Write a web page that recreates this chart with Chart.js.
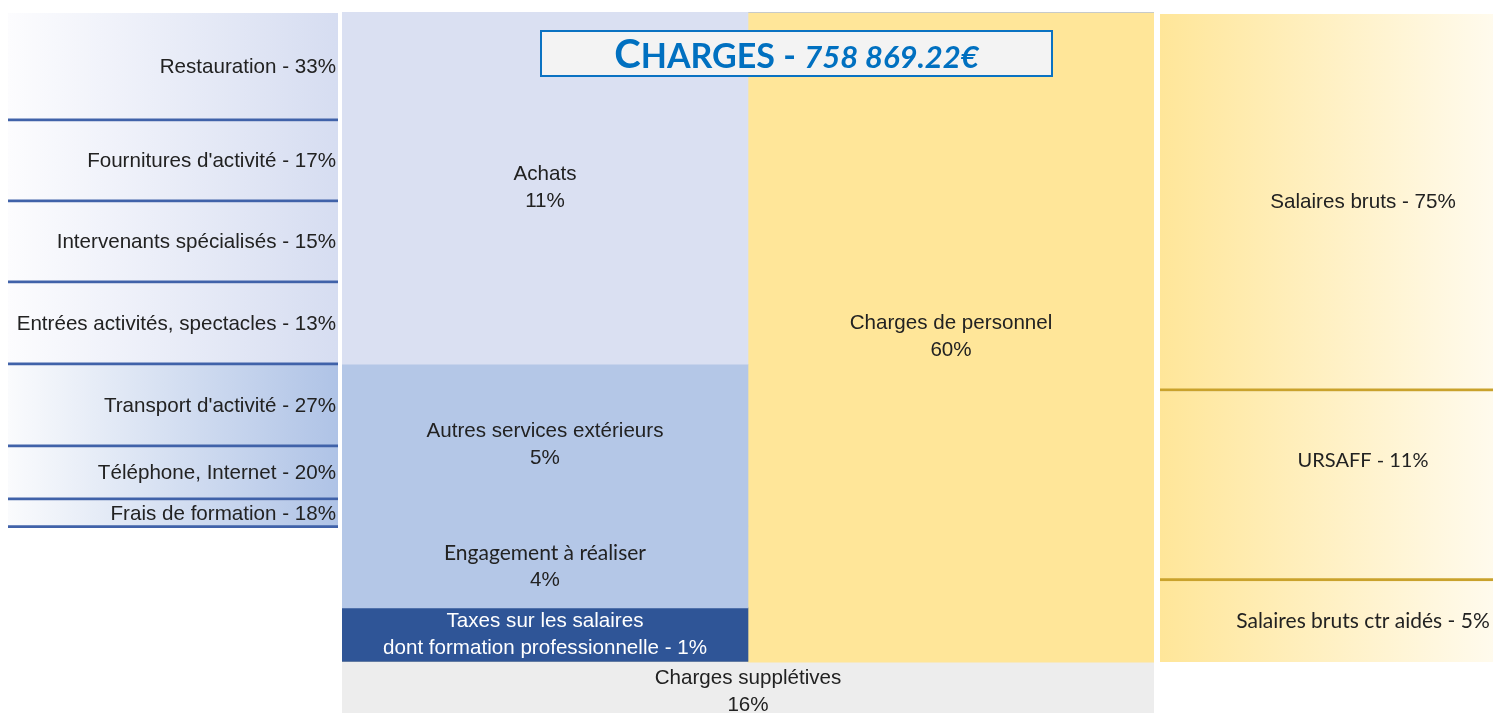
<!DOCTYPE html>
<html lang="fr">
<head>
<meta charset="utf-8">
<title>Charges - 758 869.22€</title>
<script src="https://cdn.jsdelivr.net/npm/chart.js@4.4.1/dist/chart.umd.min.js"></script>
<style>
  html, body { margin: 0; padding: 0; background: #fff; overflow: hidden; width: 1493px; height: 713px; }
  canvas { position: absolute; }
  #detailChart { left: 8px; top: 13px; }
  #mainChart { left: 342px; top: 12px; }
  #personnelChart { left: 1160px; top: 14px; }
  #title {
    position: absolute; left: 540px; top: 30px; width: 513px; height: 47px;
    box-sizing: border-box; border: 2px solid #0a72c2; background: #f3f3f3;
    color: #0070c0; font-family: Lato, sans-serif; font-weight: 700;
    font-size: 34px; line-height: 32px; padding-top: 5px; text-align: center; white-space: nowrap;
  }
  #title .cap { font-size: 40px; }
  #title .amount { font-size: 31px; font-style: italic; }
</style>
</head>
<body>
<canvas id="detailChart" width="330" height="515"></canvas>
<canvas id="mainChart" width="812" height="706"></canvas>
<canvas id="personnelChart" width="406" height="648"></canvas>
<div id="title"><span class="cap">C</span>HARGES - <span class="amount">758 869.22€</span></div>

<script>
// panneau gauche : détail achats / services extérieurs
const detailLabels = ['Restauration', "Fournitures d'activité", 'Intervenants spécialisés', 'Entrées activités, spectacles',
    "Transport d'activité", 'Téléphone, Internet', 'Frais de formation'];
const detailPcts = [33, 17, 15, 13, 27, 20, 18];
const detailShares = [21.0, 15.7, 15.7, 15.9, 15.9, 10.3, 5.4];

// bloc central (colonne 0 = achats/services, colonne 1 = personnel)
const mainLabels = ['Achats', 'Autres services extérieurs', 'Engagement à réaliser',
    'Taxes sur les salaires\ndont formation professionnelle', 'Charges de personnel', 'Charges supplétives'];
const mainPcts = [11, 5, 4, 1, 60, 16];
const mainColumn = [0, 0, 0, 0, 1, 'both'];
const mainShares = [49.9, 22.9, 11.6, 7.6, 92.1, 7.9];

// panneau droit : détail charges de personnel
const personnelLabels = ['Salaires bruts', 'URSAFF', 'Salaires bruts ctr aidés'];
const personnelPcts = [75, 11, 5];
const personnelShares = [58.2, 29.3, 12.5];

const ARIAL = '20.6px "Liberation Sans", Arial, sans-serif';
const CALIBRI = '21px Lato, sans-serif';

function hGradient(chart, from, to) {
    const area = chart.chartArea;
    if (!area) return to;
    const g = chart.ctx.createLinearGradient(area.left, 0, area.right, 0);
    g.addColorStop(0, from);
    g.addColorStop(1, to);
    return g;
}

// draws the text of each block at the centre of its bar
const blockLabels = {
    id: 'blockLabels',
    afterDatasetsDraw(chart, args, opts) {
        const ctx = chart.ctx;
        const area = chart.chartArea;
        ctx.save();
        ctx.textBaseline = 'middle';
        chart.data.datasets.forEach((ds, i) => {
            const meta = chart.getDatasetMeta(i);
            meta.data.forEach((bar, j) => {
                if (!ds.data[j]) return;
                if (ds.spanAll && j > 0) return;
                const p = bar.getProps(['x', 'y', 'base', 'width'], true);
                let x = p.x;
                if (ds.spanAll) x = (area.left + area.right) / 2;
                else if (opts.align === 'right') x = p.x + p.width / 2 - opts.pad;
                const yc = (p.y + p.base) / 2 + (ds.textShift || 0);
                ctx.textAlign = opts.align;
                ctx.fillStyle = ds.textColor || opts.color;
                ds.textLines.forEach((ln, k) => {
                    ctx.font = (k === 0 && ds.nameFont) || opts.font;
                    ctx.fillText(ln, x, yc + (k - (ds.textLines.length - 1) / 2) * opts.lineHeight);
                });
            });
        });
        ctx.restore();
    }
};

function stackedPanel(id, columns, datasets, labelOpts) {
    return new Chart(document.getElementById(id), {
        type: 'bar',
        data: { labels: columns, datasets: datasets },
        options: {
            responsive: false,
            animation: false,
            events: [],
            layout: { padding: 0 },
            datasets: { bar: { categoryPercentage: 1, barPercentage: 1, borderSkipped: false } },
            scales: {
                x: { stacked: true, display: false },
                y: { stacked: true, display: false, reverse: true, min: 0,
                     max: Math.max(...columns.map((c, j) => datasets.reduce((s, d) => s + (d.data[j] || 0), 0))) }
            },
            plugins: { legend: { display: false }, tooltip: { enabled: false }, blockLabels: labelOpts }
        },
        plugins: [blockLabels]
    });
}

// left
stackedPanel('detailChart', [''], detailLabels.map((name, i) => ({
    label: name,
    data: [detailShares[i]],
    backgroundColor: c => i < 4 ? hGradient(c.chart, '#fcfcfe', '#d6ddf1') : hGradient(c.chart, '#fafbfd', '#afc3e6'),
    borderColor: '#4062a9',
    borderWidth: { top: 0, right: 0, bottom: 3, left: 0 },
    textLines: [`${name} - ${detailPcts[i]}%`]
})), { align: 'right', pad: 2, font: ARIAL, color: '#222222', lineHeight: 27 });

// middle
const mainColors = ['#dae0f2', '#b4c7e7', '#b4c7e7', '#2f5597', '#ffe699', '#ededed'];
stackedPanel('mainChart', ['Achats et services', 'Personnel'], mainLabels.map((name, i) => {
    const lines = name.split('\n');
    if (lines.length > 1) lines[lines.length - 1] += ` - ${mainPcts[i]}%`;
    else lines.push(`${mainPcts[i]}%`);
    const col = mainColumn[i];
    return {
        label: name,
        data: col === 'both' ? [mainShares[i], mainShares[i]] : (col === 0 ? [mainShares[i], 0] : [0, mainShares[i]]),
        backgroundColor: mainColors[i],
        borderWidth: 0,
        spanAll: col === 'both',
        textLines: lines,
        textColor: i === 3 ? '#ffffff' : null,
        nameFont: i === 2 ? CALIBRI : null,
        textShift: col === 'both' ? 2 : 0
    };
}), { align: 'center', pad: 0, font: ARIAL, color: '#222222', lineHeight: 27 });

// right
stackedPanel('personnelChart', [''], personnelLabels.map((name, i) => ({
    label: name,
    data: [personnelShares[i]],
    backgroundColor: c => hGradient(c.chart, '#ffe699', '#ffffff'),
    borderColor: '#c9a22c',
    borderWidth: { top: 0, right: 0, bottom: i < 2 ? 3 : 0, left: 0 },
    textLines: [`${name} - ${personnelPcts[i]}%`],
    nameFont: i === 0 ? ARIAL : (i === 1 ? '20px Lato, sans-serif' : CALIBRI),
    textShift: i === 1 ? -26 : 0
})), { align: 'center', pad: 0, font: CALIBRI, color: '#222222', lineHeight: 27 });
</script>
</body>
</html>
